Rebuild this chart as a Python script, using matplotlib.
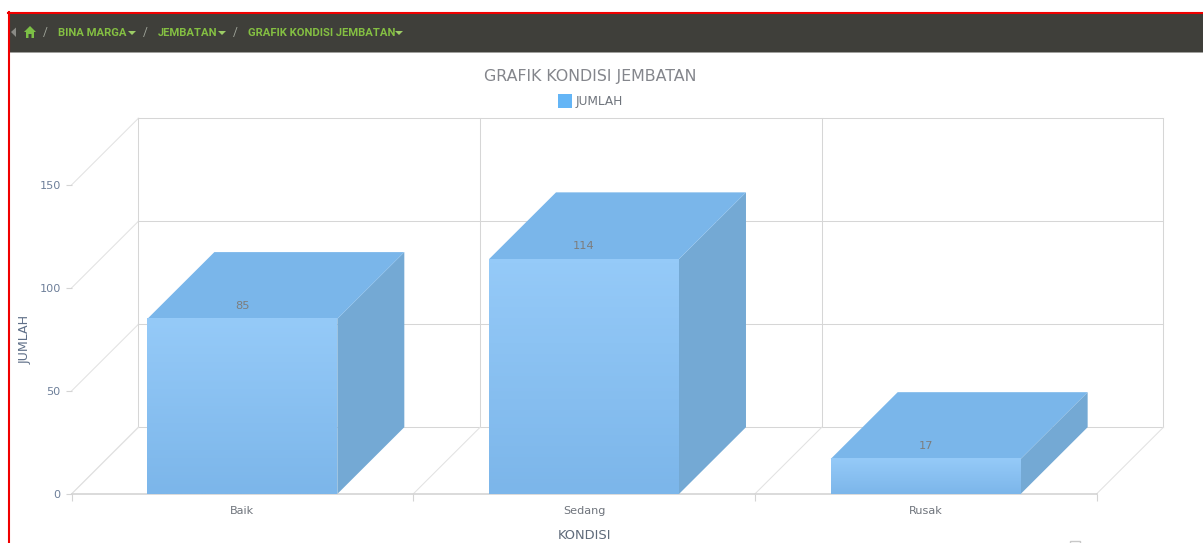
import matplotlib
matplotlib.use('Agg')
import matplotlib.pyplot as plt
import numpy as np
from matplotlib.patches import Polygon, Rectangle

categories = ['Baik', 'Sedang', 'Rusak']
jumlah = [85, 114, 17]
y_ticks = [0, 50, 100, 150]

W, H = 1203, 543
grid_c = '#d6d6d6'
text_c = '#6f747c'
bar_w = 0.556
# depth of the 3d box, in data units
dx = 67 / 341.67
dy = 66.8 / 2.06

fig = plt.figure(figsize=(W / 100, H / 100), dpi=100)
plt.rcParams['font.family'] = ['DejaVu Sans']

# page furniture drawn in pixel coords
bg = fig.add_axes([0, 0, 1, 1])
bg.set_xlim(0, W)
bg.set_ylim(H, 0)
bg.axis('off')
bg.add_patch(Rectangle((9, 13), W, 39, fc='#3f3f3a', ec='none'))
bg.plot([9, W], [52.3, 52.3], color='#8e8e8a', lw=0.6)
bg.plot([8, W], [12.6, 12.6], color='#f00000', lw=1.5)
bg.plot([8.8, 8.8], [12, H], color='#f00000', lw=1.5)
bg.add_patch(Polygon([[11, 32], [16, 27.5], [16, 37]], fc='#8a8a85', ec='none'))
# home icon
bg.add_patch(Polygon([[24, 32], [30, 26], [36, 32], [34, 32], [34, 38], [31.5, 38], [31.5, 34],
                      [28.5, 34], [28.5, 38], [26, 38], [26, 32]], fc='#7cbf45', ec='none'))
green = '#84bf42'
for x, s in [(57.5, 'BINA MARGA'), (157.5, 'JEMBATAN'), (248, 'GRAFIK KONDISI JEMBATAN')]:
    bg.text(x, 32.5, s, color=green, fontsize=8.1, fontweight='bold', family='Roboto', va='center')
for x in [128, 218, 395]:
    bg.add_patch(Polygon([[x, 31], [x + 8, 31], [x + 4, 35]], fc='#9ccc65', ec='none'))
for x in [45, 145.5, 235.5]:
    bg.text(x, 32.5, '/', color='#a0a59a', fontsize=8.5, family='Roboto', va='center', ha='center')

bg.text(590.5, 76.5, 'GRAFIK KONDISI JEMBATAN', color='#84868c', fontsize=11.4,
        ha='center', va='center')
bg.add_patch(Rectangle((558, 94), 14, 14, fc='#64b5f6', ec='none'))
bg.text(576, 101.5, 'JUMLAH', color=text_c, fontsize=8.7, va='center')
bg.text(584.5, 535.5, 'KONDISI', color='#5f6b7a', fontsize=9.4, ha='center', va='center')
bg.text(25, 339, 'JUMLAH', color='#5f6f88', fontsize=9.1, rotation=90,
        ha='center', va='center')
bg.add_patch(Rectangle((1070, 541), 10, 6, fc='white', ec='#c8c8c8', lw=1))

# chart axes = front plane of the 3d box
ax = fig.add_axes([71.5 / W, 1 - 494 / H, (1096.5 - 71.5) / W, (494 - 185) / H])
ax.set_xlim(0, 3)
ax.set_ylim(0, 150)
ax.patch.set_alpha(0)
for s in ax.spines.values():
    s.set_visible(False)

# back wall and floor
for v in y_ticks:
    ax.plot([dx, 3 + dx], [v + dy, v + dy], color=grid_c, lw=0.75, clip_on=False, zorder=1)
    ax.plot([0, dx], [v, v + dy], color='#e2e2e2', lw=0.75, clip_on=False, zorder=1)
for i in range(4):
    ax.plot([i + dx, i + dx], [dy, 150 + dy], color=grid_c, lw=0.75, clip_on=False, zorder=1)
    ax.plot([i, i + dx], [0, dy], color='#e2e2e2', lw=0.75, clip_on=False, zorder=1)
ax.plot([0, 3], [0, 0], color='#d4d4d4', lw=1.2, clip_on=False, zorder=2)

grad = np.linspace(0, 1, 64).reshape(-1, 1)
cmap = matplotlib.colors.LinearSegmentedColormap.from_list('bar', ['#95caf8', '#7cb6ea'])
for i, (name, v) in enumerate(zip(categories, jumlah)):
    l, r = i + 0.5 - bar_w / 2, i + 0.5 + bar_w / 2
    ax.add_patch(Polygon([[r, 0], [r + dx, dy], [r + dx, v + dy], [r, v]], fc='#74a9d4', ec='none',
                         zorder=3, clip_on=False))
    ax.add_patch(Polygon([[l, v], [r, v], [r + dx, v + dy], [l + dx, v + dy]], fc='#7ab6ea', ec='none',
                         zorder=3, clip_on=False))
    ax.imshow(grad, extent=(l, r, 0, v), aspect='auto', cmap=cmap, zorder=4, origin='upper')
    ax.text(i + 0.5, v + 6.3, str(v), color='#7d7d7d', fontsize=8.2,
            ha='center', va='center', zorder=5)
ax.set_xlim(0, 3)
ax.set_ylim(0, 150)

ax.set_xticks(range(4))
ax.set_xticklabels([])
ax.set_xticks([0.5, 1.5, 2.5], categories, minor=True)
ax.tick_params(axis='x', which='major', length=5, color='#d4d4d4', width=0.8)
ax.tick_params(axis='x', which='minor', length=0, pad=9, labelsize=8.1, labelcolor=text_c)
ax.set_yticks(y_ticks)
ax.tick_params(axis='y', length=4.3, color='#d4d4d4', width=0.8, labelsize=8.1, labelcolor='#6d7f99', pad=3.5)

plt.savefig('out.png', dpi=100)
